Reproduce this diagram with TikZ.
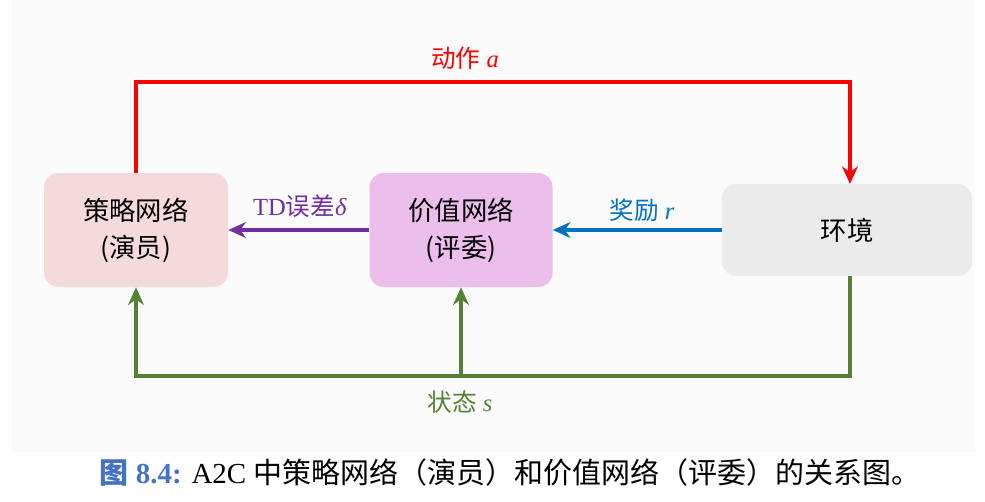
\documentclass[tikz,border=0pt]{standalone}
\usepackage{fontspec}
\setmainfont{Liberation Serif}
\newfontfamily\cjk{Noto Sans CJK SC}
\usetikzlibrary{arrows.meta}
\definecolor{actorc}{HTML}{F5DADC}
\definecolor{criticc}{HTML}{EBBEEB}
\definecolor{envc}{HTML}{EBEBEB}
\definecolor{redc}{HTML}{FF0000}
\definecolor{purc}{HTML}{7030A0}
\definecolor{bluec}{HTML}{0070C0}
\definecolor{greenc}{HTML}{548235}
\definecolor{capc}{HTML}{4472C4}
\begin{document}
\begin{tikzpicture}[x=0.02cm,y=-0.02cm,
  box/.style={rounded corners=8pt,inner sep=0pt,align=center,font=\cjk\fontsize{15}{21}\selectfont},
  conn/.style={line width=2.2pt,-{Stealth[length=10pt,width=9pt]}},
  lab/.style={font=\fontsize{14}{16}\selectfont}]
\useasboundingbox (0,0) rectangle (985,501);
\fill[black!1.5] (12,0) rectangle (975,452);
\node[box,fill=actorc,minimum width=184*0.02cm,minimum height=114*0.02cm] (actor) at (136,230) {策略网络\\(演员)};
\node[box,fill=criticc,minimum width=183*0.02cm,minimum height=114*0.02cm] (critic) at (461,230) {价值网络\\(评委)};
\node[box,fill=envc,minimum width=250*0.02cm,minimum height=92*0.02cm] (env) at (847,230) {环境};
\coordinate (ctop) at (850,184);
\draw[conn,redc] (actor.north) -- (136,82) -- (850,82) -- (ctop);
\node[lab,text=redc] (la) at (465,58) {{\cjk 动作} \textit{a}};
\draw[conn,purc] (critic.west) -- (actor.east);
\node[lab,text=purc] (ltd) at (300,206) {TD{\cjk 误差}\textit{δ}};
\draw[conn,bluec] (env.west) -- (critic.east);
\node[lab,text=bluec] (lr) at (642,210) {{\cjk 奖励} \textit{r}};
\coordinate (eb) at (850,276);
\coordinate (mid) at (461,376);
\draw[conn,greenc] (eb) -- (850,376) -- (136,376) -- (actor.south);
\draw[conn,greenc] (mid) -- (critic.south);
\node[lab,text=greenc] (ls) at (460,402) {{\cjk 状态} \textit{s}};
\node[font=\fontsize{16.5}{18}\selectfont] (cap) at (510,472) {{\color{capc}\bfseries{\cjk 图} 8.4:} A2C {\cjk 中策略网络（演员）和价值网络（评委）的关系图。}};
\end{tikzpicture}
\end{document}
